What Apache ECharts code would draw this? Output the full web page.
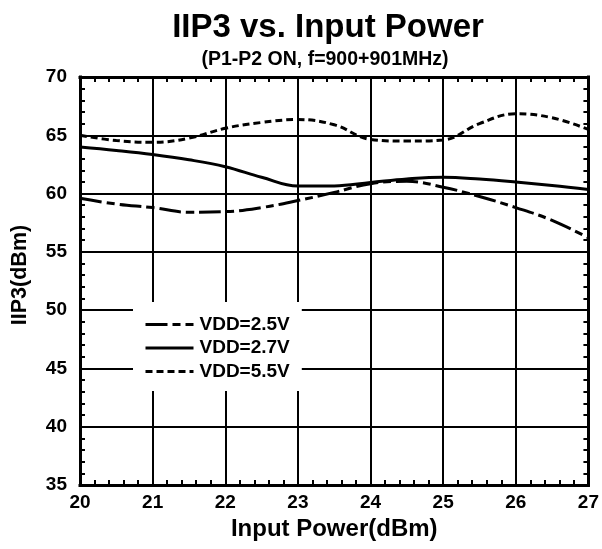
<!DOCTYPE html>
<html>
<head>
<meta charset="utf-8">
<script src="https://cdn.jsdelivr.net/npm/echarts@6/dist/echarts.min.js"></script>
<style>
html,body{margin:0;padding:0;background:#fff;}
#chart{width:602px;height:549px;}
</style>
</head>
<body>
<div id="chart"></div>
<script>
var titleText = 'IIP3 vs. Input Power';
var subtitleText = '(P1-P2 ON, f=900+901MHz)';
var xName = 'Input Power(dBm)';
var yName = 'IIP3(dBm)';
var seriesNames = ['VDD=2.5V', 'VDD=2.7V', 'VDD=5.5V'];
var inputPower = [20, 20.5, 21, 21.5, 22, 22.5, 23, 23.5, 24, 24.5, 25, 25.5, 26, 26.5, 27];
var iip3_25 = [59.6, 59.1, 58.8, 58.4, 58.45, 58.8, 59.4, 60.1, 60.85, 61.05, 60.55, 59.75, 58.8, 57.7, 56.2];
var iip3_27 = [64.0, 63.7, 63.35, 62.9, 62.3, 61.4, 60.65, 60.66, 60.95, 61.25, 61.4, 61.25, 61.0, 60.7, 60.35];
var iip3_55 = [65.0, 64.55, 64.4, 64.75, 65.6, 66.1, 66.35, 65.9, 64.65, 64.5, 64.6, 66.0, 66.85, 66.5, 65.5];

function pairs(xs, ys) { return xs.map(function (x, i) { return [x, ys[i]]; }); }

var FONT = '"Liberation Sans", Arial, Helvetica, sans-serif';
var chart = echarts.init(document.getElementById('chart'), null, {renderer: 'canvas'});

function axisBase(pos, showLabel) {
  return {
    type: 'value', position: pos,
    axisLine: {show: true, onZero: false, lineStyle: {color: '#000', width: 3, cap: 'square'}},
    axisTick: {show: true, inside: true, length: 5, lineStyle: {color: '#000', width: 2}},
    minorTick: {show: true, splitNumber: 5, length: 5, lineStyle: {color: '#000', width: 2}},
    axisLabel: {show: showLabel, color: '#000', fontFamily: FONT, fontWeight: 'bold', fontSize: 19},
    splitLine: {show: false}
  };
}

var xBottom = axisBase('bottom', true);
xBottom.min = 20; xBottom.max = 27; xBottom.interval = 1;
xBottom.splitLine = {show: true, lineStyle: {color: '#000', width: 2}};
xBottom.axisLabel.margin = 8;
xBottom.name = xName; xBottom.nameLocation = 'middle'; xBottom.nameGap = 32;
xBottom.nameTextStyle = {color: '#000', fontFamily: FONT, fontWeight: 'bold', fontSize: 24};

var xTop = axisBase('top', false);
xTop.min = 20; xTop.max = 27; xTop.interval = 1;

var yLeft = axisBase('left', true);
yLeft.min = 35; yLeft.max = 70; yLeft.interval = 5;
yLeft.splitLine = {show: true, lineStyle: {color: '#000', width: 2}};
yLeft.axisLabel.margin = 13;

var yRight = axisBase('right', false);
yRight.min = 35; yRight.max = 70; yRight.interval = 5;

function lineSeries(name, ys, type) {
  return {
    name: name, type: 'line', xAxisIndex: 0, yAxisIndex: 0,
    data: pairs(inputPower, ys), smooth: 0.4, showSymbol: false, symbol: 'none',
    lineStyle: {color: '#000', width: 3, type: type},
    itemStyle: {color: '#000'}, z: 3
  };
}

chart.setOption({
  animation: false,
  backgroundColor: '#fff',
  grid: {left: 80, right: 13, top: 77, bottom: 64},
  graphic: [
    {type: 'text', x: 328, y: 11, style: {text: titleText, align: 'center', verticalAlign: 'top', fill: '#000', font: 'bold 33px ' + FONT}},
    {type: 'text', x: 325, y: 50, style: {text: subtitleText, align: 'center', verticalAlign: 'top', fill: '#000', font: 'bold 19.5px ' + FONT}},
    {type: 'text', x: 20, y: 275, rotation: Math.PI / 2, style: {text: yName, align: 'center', verticalAlign: 'middle', fill: '#000', font: 'bold 21.5px ' + FONT}}
  ],
  legend: {
    orient: 'vertical', left: 133, top: 302,
    padding: [13, 12, 10, 11],
    backgroundColor: '#fff',
    itemWidth: 48, itemHeight: 20, itemGap: 4.5,
    itemStyle: {opacity: 0},
    lineStyle: {width: 3},
    data: seriesNames,
    textStyle: {color: '#000', fontFamily: FONT, fontWeight: 'bold', fontSize: 19, padding: [0, 0, 0, 1]},
    z: 10
  },
  xAxis: [xBottom, xTop],
  yAxis: [yLeft, yRight],
  series: [
    lineSeries(seriesNames[0], iip3_25, [22, 5, 8, 5]),
    lineSeries(seriesNames[1], iip3_27, 'solid'),
    lineSeries(seriesNames[2], iip3_55, [7, 4])
  ]
});
</script>
</body>
</html>
